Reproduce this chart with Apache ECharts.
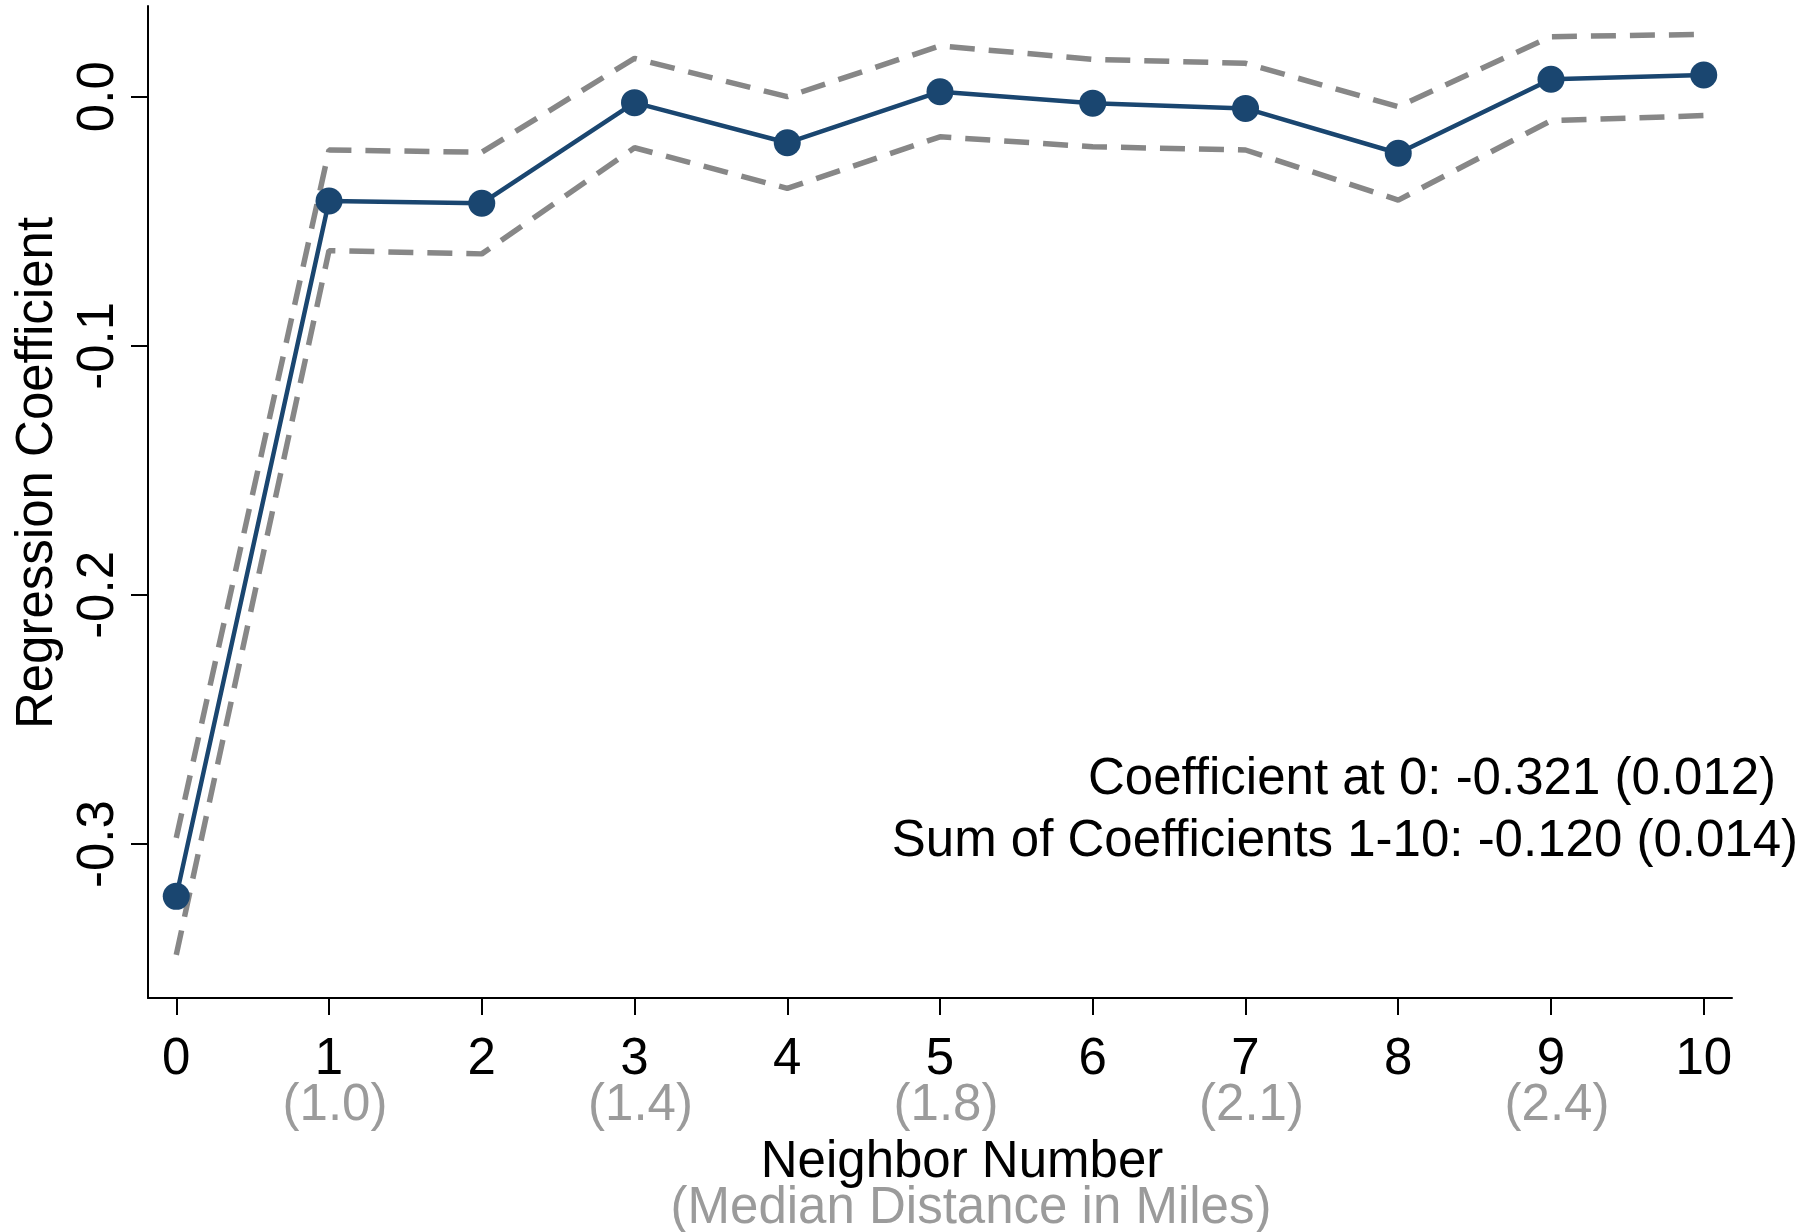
<!DOCTYPE html>
<html>
<head>
<meta charset="utf-8">
<title>Regression Coefficient by Neighbor Number</title>
<script src="https://cdn.jsdelivr.net/npm/echarts@6/dist/echarts.min.js"></script>
<style>
  html, body { margin: 0; padding: 0; background: #ffffff; }
  #chart { width: 1804px; height: 1232px; }
</style>
</head>
<body>
<div id="chart"></div>
<script>
// Neighbor number (0 = own unit) and estimated coefficients with 95% bands
const neighbors = [0, 1, 2, 3, 4, 5, 6, 7, 8, 9, 10];
const coef = [-0.321, -0.0419, -0.0428, -0.0024, -0.0185, 0.0020, -0.0026, -0.0047, -0.0227, 0.0070, 0.0087];
const ciUpper = [-0.2975, -0.0214, -0.0223, 0.0154, 0.0000, 0.0204, 0.0150, 0.0134, -0.0040, 0.0241, 0.0250];
const ciLower = [-0.3445, -0.0618, -0.0631, -0.0205, -0.0368, -0.0161, -0.0201, -0.0214, -0.0415, -0.0096, -0.0076];

// Median distance (miles) shown under every other neighbor number
const medianMiles = ['', '(1.0)', '', '(1.4)', '', '(1.8)', '', '(2.1)', '', '(2.4)', ''];

// Axis ticks
const xTicks = neighbors;
const yTicks = [-0.3, -0.2, -0.1, 0.0];

// Summary annotation
const noteLines = [
  'Coefficient at 0: -0.321 (0.012)',
  'Sum of Coefficients 1-10: -0.120 (0.014)'
];

const FONT = '"Liberation Sans", Arial, Helvetica, sans-serif';
const FS = 51;
const BLUE = '#1a4670';
const GRAY_LINE = '#878787';
const GRAY_TEXT = '#9b9b9b';

const pairs = (ys) => neighbors.map((x, i) => [x, ys[i]]);

const chart = echarts.init(document.getElementById('chart'), null, { renderer: 'canvas' });

chart.setOption({
  animation: false,
  backgroundColor: '#ffffff',
  grid: { left: 148, right: 72, top: 6, bottom: 234, containLabel: false },
  xAxis: {
    type: 'value',
    min: -0.185,
    max: 10.185,
    splitLine: { show: false },
    axisLine: { show: true, onZero: false, lineStyle: { color: '#000', width: 2 } },
    axisTick: { show: true, customValues: xTicks, length: 17, lineStyle: { color: '#000', width: 2 } },
    axisLabel: {
      customValues: xTicks,
      margin: 39,
      fontFamily: FONT,
      fontSize: FS,
      lineHeight: 46,
      color: '#000',
      formatter: (v) => {
        const d = medianMiles[Math.round(v)];
        return d ? v + '\n{g|' + d + '}' : String(v);
      },
      rich: {
        g: { color: GRAY_TEXT, fontFamily: FONT, fontSize: FS, lineHeight: 46, padding: [0, 0, 0, 12] }
      }
    }
  },
  yAxis: {
    type: 'value',
    min: -0.3618,
    max: 0.0364,
    splitLine: { show: false },
    axisLine: { show: true, onZero: false, lineStyle: { color: '#000', width: 2 } },
    axisTick: { show: true, customValues: yTicks, length: 17, lineStyle: { color: '#000', width: 2 } },
    axisLabel: {
      customValues: yTicks,
      rotate: 90,
      margin: 24,
      fontFamily: FONT,
      fontSize: FS,
      lineHeight: 50,
      color: '#000',
      formatter: (v) => v.toFixed(1)
    }
  },
  series: [
    {
      name: 'Upper bound',
      type: 'line',
      data: pairs(ciUpper),
      showSymbol: false,
      symbol: 'none',
      lineStyle: { color: GRAY_LINE, width: 5.5, type: [25, 14], cap: 'butt' },
      z: 2
    },
    {
      name: 'Lower bound',
      type: 'line',
      data: pairs(ciLower),
      showSymbol: false,
      symbol: 'none',
      lineStyle: { color: GRAY_LINE, width: 5.5, type: [25, 14], cap: 'butt' },
      z: 2
    },
    {
      name: 'Coefficient',
      type: 'line',
      data: pairs(coef),
      symbol: 'circle',
      symbolSize: 27,
      itemStyle: { color: BLUE },
      lineStyle: { color: BLUE, width: 4.5 },
      z: 3
    }
  ],
  graphic: [
    {
      type: 'text',
      x: 38, y: 473,
      rotation: Math.PI / 2,
      style: {
        text: 'Regression Coefficient',
        font: FS + 'px ' + FONT,
        fill: '#000',
        align: 'center',
        verticalAlign: 'middle'
      }
    },
    {
      type: 'text',
      x: 962, y: 1163,
      style: {
        text: 'Neighbor Number',
        font: FS + 'px ' + FONT,
        fill: '#000',
        align: 'center',
        verticalAlign: 'middle'
      }
    },
    {
      type: 'text',
      x: 971, y: 1209,
      style: {
        text: '(Median Distance in Miles)',
        font: FS + 'px ' + FONT,
        fill: GRAY_TEXT,
        align: 'center',
        verticalAlign: 'middle'
      }
    },
    {
      type: 'text',
      x: 1776, y: 780,
      style: {
        text: noteLines[0],
        font: FS + 'px ' + FONT,
        fill: '#000',
        align: 'right',
        verticalAlign: 'middle'
      }
    },
    {
      type: 'text',
      x: 1798, y: 842,
      style: {
        text: noteLines[1],
        font: FS + 'px ' + FONT,
        fill: '#000',
        align: 'right',
        verticalAlign: 'middle'
      }
    }
  ]
});
</script>
</body>
</html>
